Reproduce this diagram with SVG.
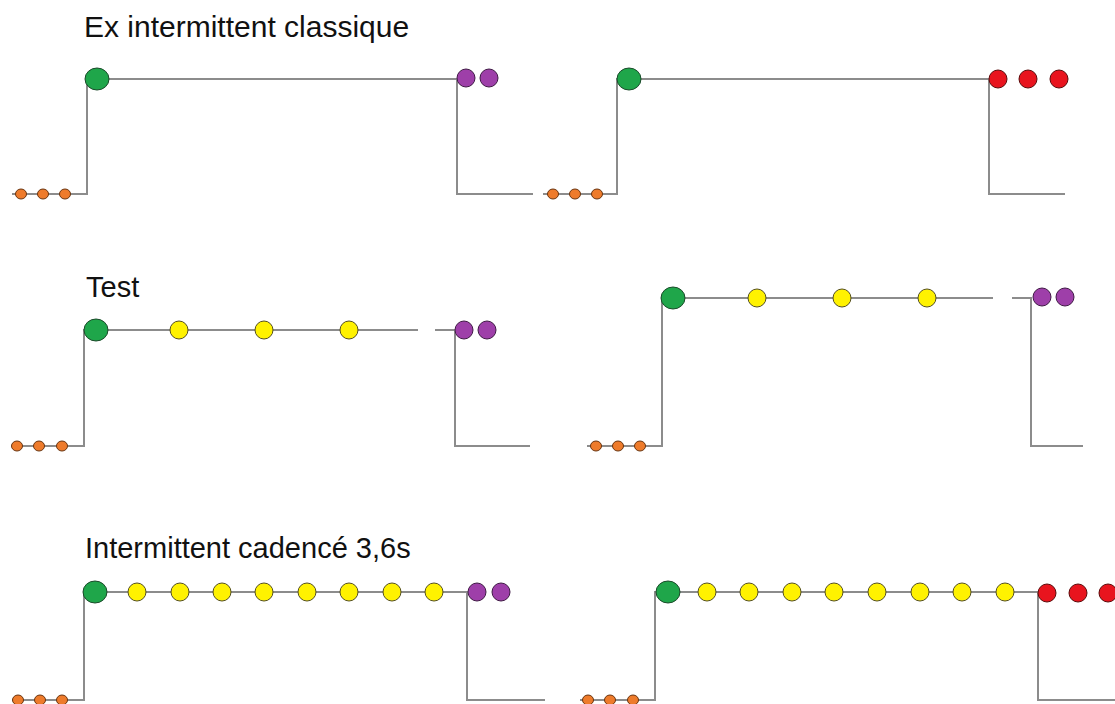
<svg xmlns="http://www.w3.org/2000/svg" width="1115" height="704" viewBox="0 0 1115 704">
<style>
.ln{fill:none;stroke:#8c8c8c;stroke-width:2}
.t{font-family:"Liberation Sans",Arial,sans-serif;font-size:29px;fill:#111}
.g{fill:#1fa64a;stroke:#1b4a2a;stroke-width:1}
.y{fill:#fff200;stroke:#555020;stroke-width:1}
.p{fill:#9e3fa9;stroke:#3f1a45;stroke-width:1}
.r{fill:#e8141e;stroke:#5a0a0a;stroke-width:1}
.o{fill:#ee7b2b;stroke:#6a3510;stroke-width:1}
</style>
<rect width="1115" height="704" fill="#fff"/>
<text class="t" x="84" y="37" style="font-size:30px">Ex intermittent classique</text>
<text class="t" x="86" y="297">Test</text>
<text class="t" x="85" y="558">Intermittent cadencé 3,6s</text>
<g id="connectors">
<path class="ln" d="M12 194 H87 V79 H457 V194 H533"/>
<path class="ln" d="M543 194 H617 V79 H989 V194 H1065"/>
<path class="ln" d="M12 446 H84 V330 H418"/>
<path class="ln" d="M435 330 H455 V446 H530"/>
<path class="ln" d="M587 446 H662 V298 H993"/>
<path class="ln" d="M1012 298 H1031 V446 H1083"/>
<path class="ln" d="M12 700 H84 V592 H467 V700 H545"/>
<path class="ln" d="M580 700 H655 V592 H1038 V700 H1115"/>
</g>
<g id="row1-left">
<ellipse class="o" cx="21" cy="194" rx="5.5" ry="5"/><ellipse class="o" cx="43" cy="194" rx="5.5" ry="5"/><ellipse class="o" cx="65" cy="194" rx="5.5" ry="5"/>
<ellipse class="g" cx="97" cy="79" rx="12" ry="11"/>
<circle class="p" cx="466" cy="78" r="9"/><circle class="p" cx="489" cy="78" r="9"/>
</g>
<g id="row1-right">
<ellipse class="o" cx="553" cy="194" rx="5.5" ry="5"/><ellipse class="o" cx="575" cy="194" rx="5.5" ry="5"/><ellipse class="o" cx="597" cy="194" rx="5.5" ry="5"/>
<ellipse class="g" cx="629" cy="79" rx="12" ry="11"/>
<circle class="r" cx="998" cy="79" r="9"/><circle class="r" cx="1028" cy="79" r="9"/><circle class="r" cx="1059" cy="79" r="9"/>
</g>
<g id="row2-left">
<ellipse class="o" cx="17" cy="446" rx="5.5" ry="5"/><ellipse class="o" cx="39" cy="446" rx="5.5" ry="5"/><ellipse class="o" cx="62" cy="446" rx="5.5" ry="5"/>
<ellipse class="g" cx="96" cy="330" rx="12" ry="11"/>
<circle class="y" cx="179" cy="330" r="9"/><circle class="y" cx="264" cy="330" r="9"/><circle class="y" cx="349" cy="330" r="9"/>
<circle class="p" cx="464" cy="330" r="9"/><circle class="p" cx="487" cy="330" r="9"/>
</g>
<g id="row2-right">
<ellipse class="o" cx="596" cy="446" rx="5.5" ry="5"/><ellipse class="o" cx="618" cy="446" rx="5.5" ry="5"/><ellipse class="o" cx="640" cy="446" rx="5.5" ry="5"/>
<ellipse class="g" cx="673" cy="298" rx="12" ry="11"/>
<circle class="y" cx="757" cy="298" r="9"/><circle class="y" cx="842" cy="298" r="9"/><circle class="y" cx="927" cy="298" r="9"/>
<circle class="p" cx="1042" cy="297" r="9"/><circle class="p" cx="1065" cy="297" r="9"/>
</g>
<g id="row3-left">
<ellipse class="o" cx="18" cy="700" rx="5.5" ry="5"/><ellipse class="o" cx="40" cy="700" rx="5.5" ry="5"/><ellipse class="o" cx="62" cy="700" rx="5.5" ry="5"/>
<ellipse class="g" cx="95" cy="592" rx="12" ry="11"/>
<circle class="y" cx="137" cy="592" r="9"/><circle class="y" cx="180" cy="592" r="9"/><circle class="y" cx="222" cy="592" r="9"/><circle class="y" cx="264" cy="592" r="9"/><circle class="y" cx="307" cy="592" r="9"/><circle class="y" cx="349" cy="592" r="9"/><circle class="y" cx="392" cy="592" r="9"/><circle class="y" cx="434" cy="592" r="9"/>
<circle class="p" cx="477" cy="592" r="9"/><circle class="p" cx="501" cy="592" r="9"/>
</g>
<g id="row3-right">
<ellipse class="o" cx="588" cy="700" rx="5.5" ry="5"/><ellipse class="o" cx="610" cy="700" rx="5.5" ry="5"/><ellipse class="o" cx="633" cy="700" rx="5.5" ry="5"/>
<ellipse class="g" cx="668" cy="592" rx="12" ry="11"/>
<circle class="y" cx="707" cy="592" r="9"/><circle class="y" cx="749" cy="592" r="9"/><circle class="y" cx="792" cy="592" r="9"/><circle class="y" cx="834" cy="592" r="9"/><circle class="y" cx="877" cy="592" r="9"/><circle class="y" cx="920" cy="592" r="9"/><circle class="y" cx="962" cy="592" r="9"/><circle class="y" cx="1005" cy="592" r="9"/>
<circle class="r" cx="1047" cy="593" r="9"/><circle class="r" cx="1078" cy="593" r="9"/><circle class="r" cx="1108" cy="593" r="9"/>
</g>
</svg>
